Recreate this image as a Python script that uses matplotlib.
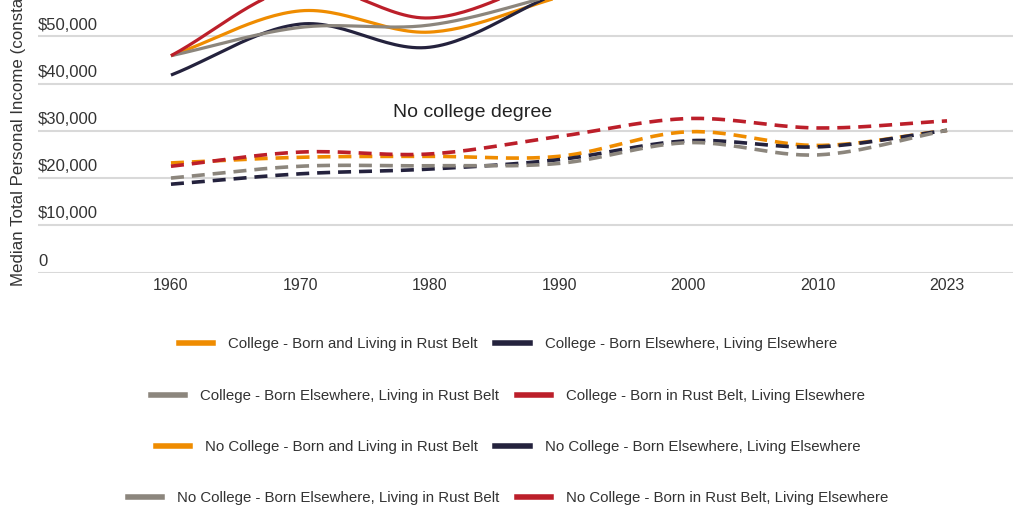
import matplotlib
matplotlib.use("Agg")
import matplotlib.pyplot as plt
import matplotlib.transforms as mtransforms
from matplotlib.lines import Line2D
import numpy as np

years = ["1960", "1970", "1980", "1990", "2000", "2010", "2023"]

# college degree (solid) - values above ~$58k are cut off in the picture, guessed
col_rust = [45900, 55400, 50900, 58300, 66000, 69000, 73000]        # born and living in rust belt
col_else = [41800, 52600, 47700, 59200, 68000, 71000, 76000]        # born elsewhere, living elsewhere
col_else_rust = [45900, 51900, 52400, 59000, 66500, 70000, 74000]   # born elsewhere, living in rust belt
col_rust_else = [45900, 60500, 53900, 63000, 72000, 75000, 80000]   # born in rust belt, living elsewhere

# no college degree (dashed)
nc_rust = [23200, 24400, 24600, 24600, 29800, 26900, 30100]
nc_else = [18700, 20900, 21900, 23900, 27900, 26600, 30100]
nc_else_rust = [20000, 22500, 22600, 23100, 27500, 24900, 30100]
nc_rust_else = [22500, 25500, 25100, 28800, 32600, 30600, 32100]

colors = ["#EF8C00", "#24223D", "#8C867D", "#BC1F2A"]
names = ["Born and Living in Rust Belt", "Born Elsewhere, Living Elsewhere",
         "Born Elsewhere, Living in Rust Belt", "Born in Rust Belt, Living Elsewhere"]

yticks = [0, 10000, 20000, 30000, 40000, 50000]
ylabels = ["0", "$10,000", "$20,000", "$30,000", "$40,000", "$50,000"]

FONT = "Liberation Sans"
TXT = "#333333"


def smooth(vals, n=30):
    # catmull-rom, like the spreadsheet "smoothed line" option
    y = np.asarray(vals, dtype=float)
    x = np.arange(len(y), dtype=float)
    px = np.concatenate([[2 * x[0] - x[1]], x, [2 * x[-1] - x[-2]]])
    py = np.concatenate([[2 * y[0] - y[1]], y, [2 * y[-1] - y[-2]]])
    xs, ys = [], []
    t = np.linspace(0, 1, n, endpoint=False)
    for i in range(1, len(px) - 2):
        for arr, out in ((px, xs), (py, ys)):
            p0, p1, p2, p3 = arr[i - 1], arr[i], arr[i + 1], arr[i + 2]
            out.append(0.5 * (2 * p1 + (-p0 + p2) * t + (2 * p0 - 5 * p1 + 4 * p2 - p3) * t ** 2
                              + (-p0 + 3 * p1 - 3 * p2 + p3) * t ** 3))
    xs.append([x[-1]])
    ys.append([y[-1]])
    return np.concatenate(xs), np.concatenate(ys)


fig = plt.figure(figsize=(10.24, 5.12), dpi=100)
ax = fig.add_axes([38 / 1024, 1 - 272.5 / 512, (1013 - 38) / 1024, 272.5 / 512])

for vals, c in zip([col_rust, col_else, col_else_rust, col_rust_else], colors):
    sx, sy = smooth(vals)
    ax.plot(sx, sy, color=c, lw=2.3, solid_capstyle="butt", clip_on=True)

for vals, c in zip([nc_rust, nc_else, nc_else_rust, nc_rust_else], colors):
    sx, sy = smooth(vals)
    ax.plot(sx, sy, color=c, lw=2.6, dashes=(3.6, 2.2), dash_capstyle="butt")

ax.set_xlim(-1.028, 6.51)
ax.set_ylim(0, 57700)
for s in ax.spines.values():
    s.set_visible(False)
ax.set_yticks(yticks)
ax.set_yticklabels([])
ax.tick_params(axis="y", length=0)
ax.grid(axis="y", color="#d9d9d9", lw=1.5)
ax.set_axisbelow(True)
ax.set_xticks(range(len(years)))
ax.set_xticklabels(years, fontsize=11.5, color=TXT, family=FONT)
ax.tick_params(axis="x", length=0, pad=4)

trans = mtransforms.blended_transform_factory(ax.transAxes, ax.transData)
for v, lab in zip(yticks, ylabels):
    ax.text(0.0, v + 800, lab, transform=trans, ha="left", va="bottom",
            fontsize=12, color=TXT, family=FONT)

ax.text(2.335, 33800, "No college degree", ha="center", va="center",
        fontsize=14, color="#222222", family=FONT)

fig.text(18 / 1024, 1 - 286 / 512, "Median Total Personal Income (constant 2023 dollars)",
         rotation=90, rotation_mode="anchor", ha="left", va="center",
         fontsize=12.2, color=TXT, family=FONT)

# legend: one centred row per pair
labels = [("College - " + names[0], colors[0], "College - " + names[1], colors[1]),
          ("College - " + names[2], colors[2], "College - " + names[3], colors[3]),
          ("No College - " + names[0], colors[0], "No College - " + names[1], colors[1]),
          ("No College - " + names[2], colors[2], "No College - " + names[3], colors[3])]
row_y = [344, 396, 447, 498]
for (l1, c1, l2, c2), ry in zip(labels, row_y):
    hs = [Line2D([], [], color=c1, lw=4.0), Line2D([], [], color=c2, lw=4.0)]
    leg = fig.legend(hs, [l1, l2], loc="center", bbox_to_anchor=(508 / 1024, 1 - ry / 512),
                     ncol=2, frameon=False, handlelength=2.3, handletextpad=1.0,
                     columnspacing=1.15, borderpad=0, prop={"family": FONT, "size": 10.8})
    for t in leg.get_texts():
        t.set_color(TXT)

fig.savefig("out.png", dpi=100)
